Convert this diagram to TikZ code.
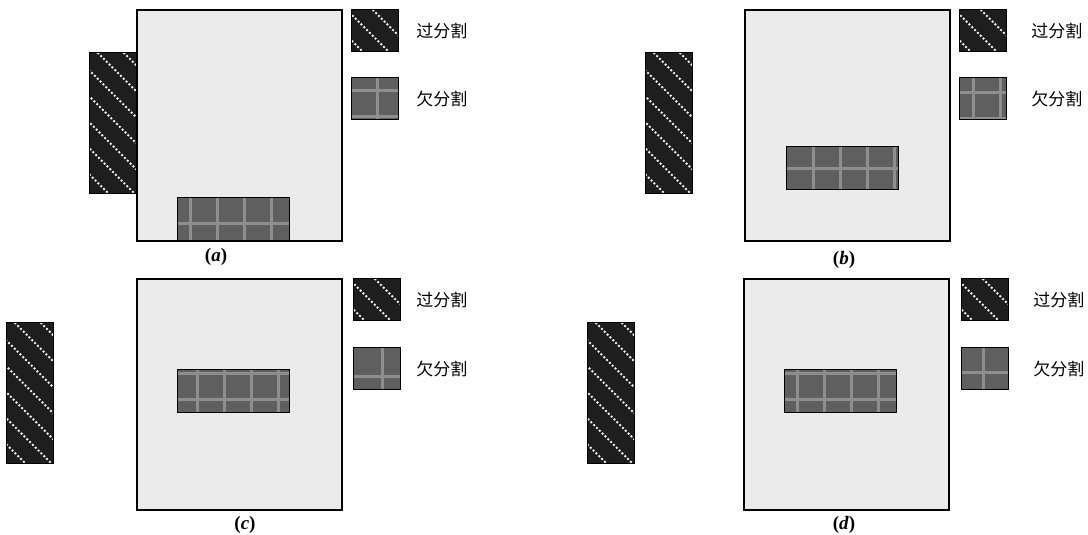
\documentclass[tikz,border=0pt]{standalone}
\usepackage{fontspec}
\newfontfamily\cjk{Noto Sans CJK SC}
\newfontfamily\tnr{Liberation Serif}
\usepackage{tikz}
\usetikzlibrary{positioning}
\usepackage{xcolor}
\definecolor{sqfill}{HTML}{EBEBEB}
\definecolor{hatchfill}{HTML}{1E1E1E}
\definecolor{gridfill}{HTML}{5F5F5F}
\definecolor{gridline}{HTML}{8E8E8E}

\begin{document}
\begin{tikzpicture}[x=1pt, y=-1pt]
\tikzset{
  sq/.style={rectangle, draw=black, line width=1.6pt, fill=sqfill, inner sep=0pt,
    minimum width=205pt, minimum height=231pt, anchor=north west},
  hline/.style={white!90!gray, line width=1.9pt, dash pattern=on 1.9pt off 2.1pt},
  gline/.style={gridline, line width=2.6pt},
  overseg/.style={rectangle, draw=black, line width=1.2pt, fill=hatchfill, inner sep=0pt,
    anchor=north west, path picture={
      \foreach \k in {-7,...,3}
        \draw[hline] ([xshift={(#1+26*\k)*1pt}]path picture bounding box.north west) -- ++(300pt,-300pt);
    }},
  overseg/.default=0,
  underseg/.style 2 args={rectangle, draw=black, line width=1.2pt, fill=gridfill, inner sep=0pt,
    anchor=north west, path picture={
      \foreach \i in {0,...,4}
        \draw[gline] ([xshift={(#1+27*\i)*1pt}]path picture bounding box.north west) -- ++(0pt,-60pt);
      \foreach \j in {0,1}
        \draw[gline] ([yshift={-(#2+26*\j)*1pt}]path picture bounding box.north west) -- ++(130pt,0pt);
    }},
  tall/.style={minimum width=47pt, minimum height=141pt},
  wide/.style={minimum width=112pt, minimum height=43pt},
  leg/.style={minimum width=47pt, minimum height=42pt},
  legtext/.style={font=\cjk\fontsize{17}{20}\selectfont, inner sep=0pt, anchor=west},
  lab/.style={font=\tnr\fontsize{19}{22}\selectfont\bfseries},
}
\useasboundingbox (0,0) rectangle (1088,535);

% (a)
\node[overseg=8, tall] (ova) at (89,52) {};
\node[sq] (sqa) at (136,9) {};
\node[underseg={13}{26}, wide] (una) at (177,197) {};
\node[overseg=21, leg] (lova) at (351,9) {};
\node[underseg={26}{13}, leg] (luna) at (351,77) {};
\node[legtext, right=17pt of lova] (tova) {过分割};
\node[legtext, right=17pt of luna] (tuna) {欠分割};
\node[lab] (laba) at (216,257) {(\textit{a})};

% (b)
\node[overseg=8, tall] (ovb) at (645,52) {};
\node[sq] (sqb) at (744,9) {};
\node[underseg={27}{22}, wide] (unb) at (786,146) {};
\node[overseg=21, leg] (lovb) at (959,9) {};
\node[underseg={14}{15}, leg] (lunb) at (959,77) {};
\node[legtext, right=24pt of lovb] (tovb) {过分割};
\node[legtext, right=24pt of lunb] (tunb) {欠分割};
\node[lab] (labb) at (844,260) {(\textit{b})};

% (c)
\node[overseg=8, tall] (ovc) at (6,322) {};
\node[sq] (sqc) at (136,278) {};
\node[underseg={20}{4}, wide] (unc) at (177,369) {};
\node[overseg=21, leg] (lovc) at (353,278) {};
\node[underseg={29}{29}, leg] (lunc) at (353,347) {};
\node[legtext, right=15pt of lovc] (tovc) {过分割};
\node[legtext, right=15pt of lunc] (tunc) {欠分割};
\node[lab] (labc) at (245,525) {(\textit{c})};

% (d)
\node[overseg=8, tall] (ovd) at (587,322) {};
\node[sq] (sqd) at (743,278) {};
\node[underseg={13}{4}, wide] (und) at (784,369) {};
\node[overseg=21, leg] (lovd) at (961,278) {};
\node[underseg={22}{25}, leg] (lund) at (961,347) {};
\node[legtext, right=24pt of lovd] (tovd) {过分割};
\node[legtext, right=24pt of lund] (tund) {欠分割};
\node[lab] (labd) at (844,525) {(\textit{d})};
\end{tikzpicture}
\end{document}
